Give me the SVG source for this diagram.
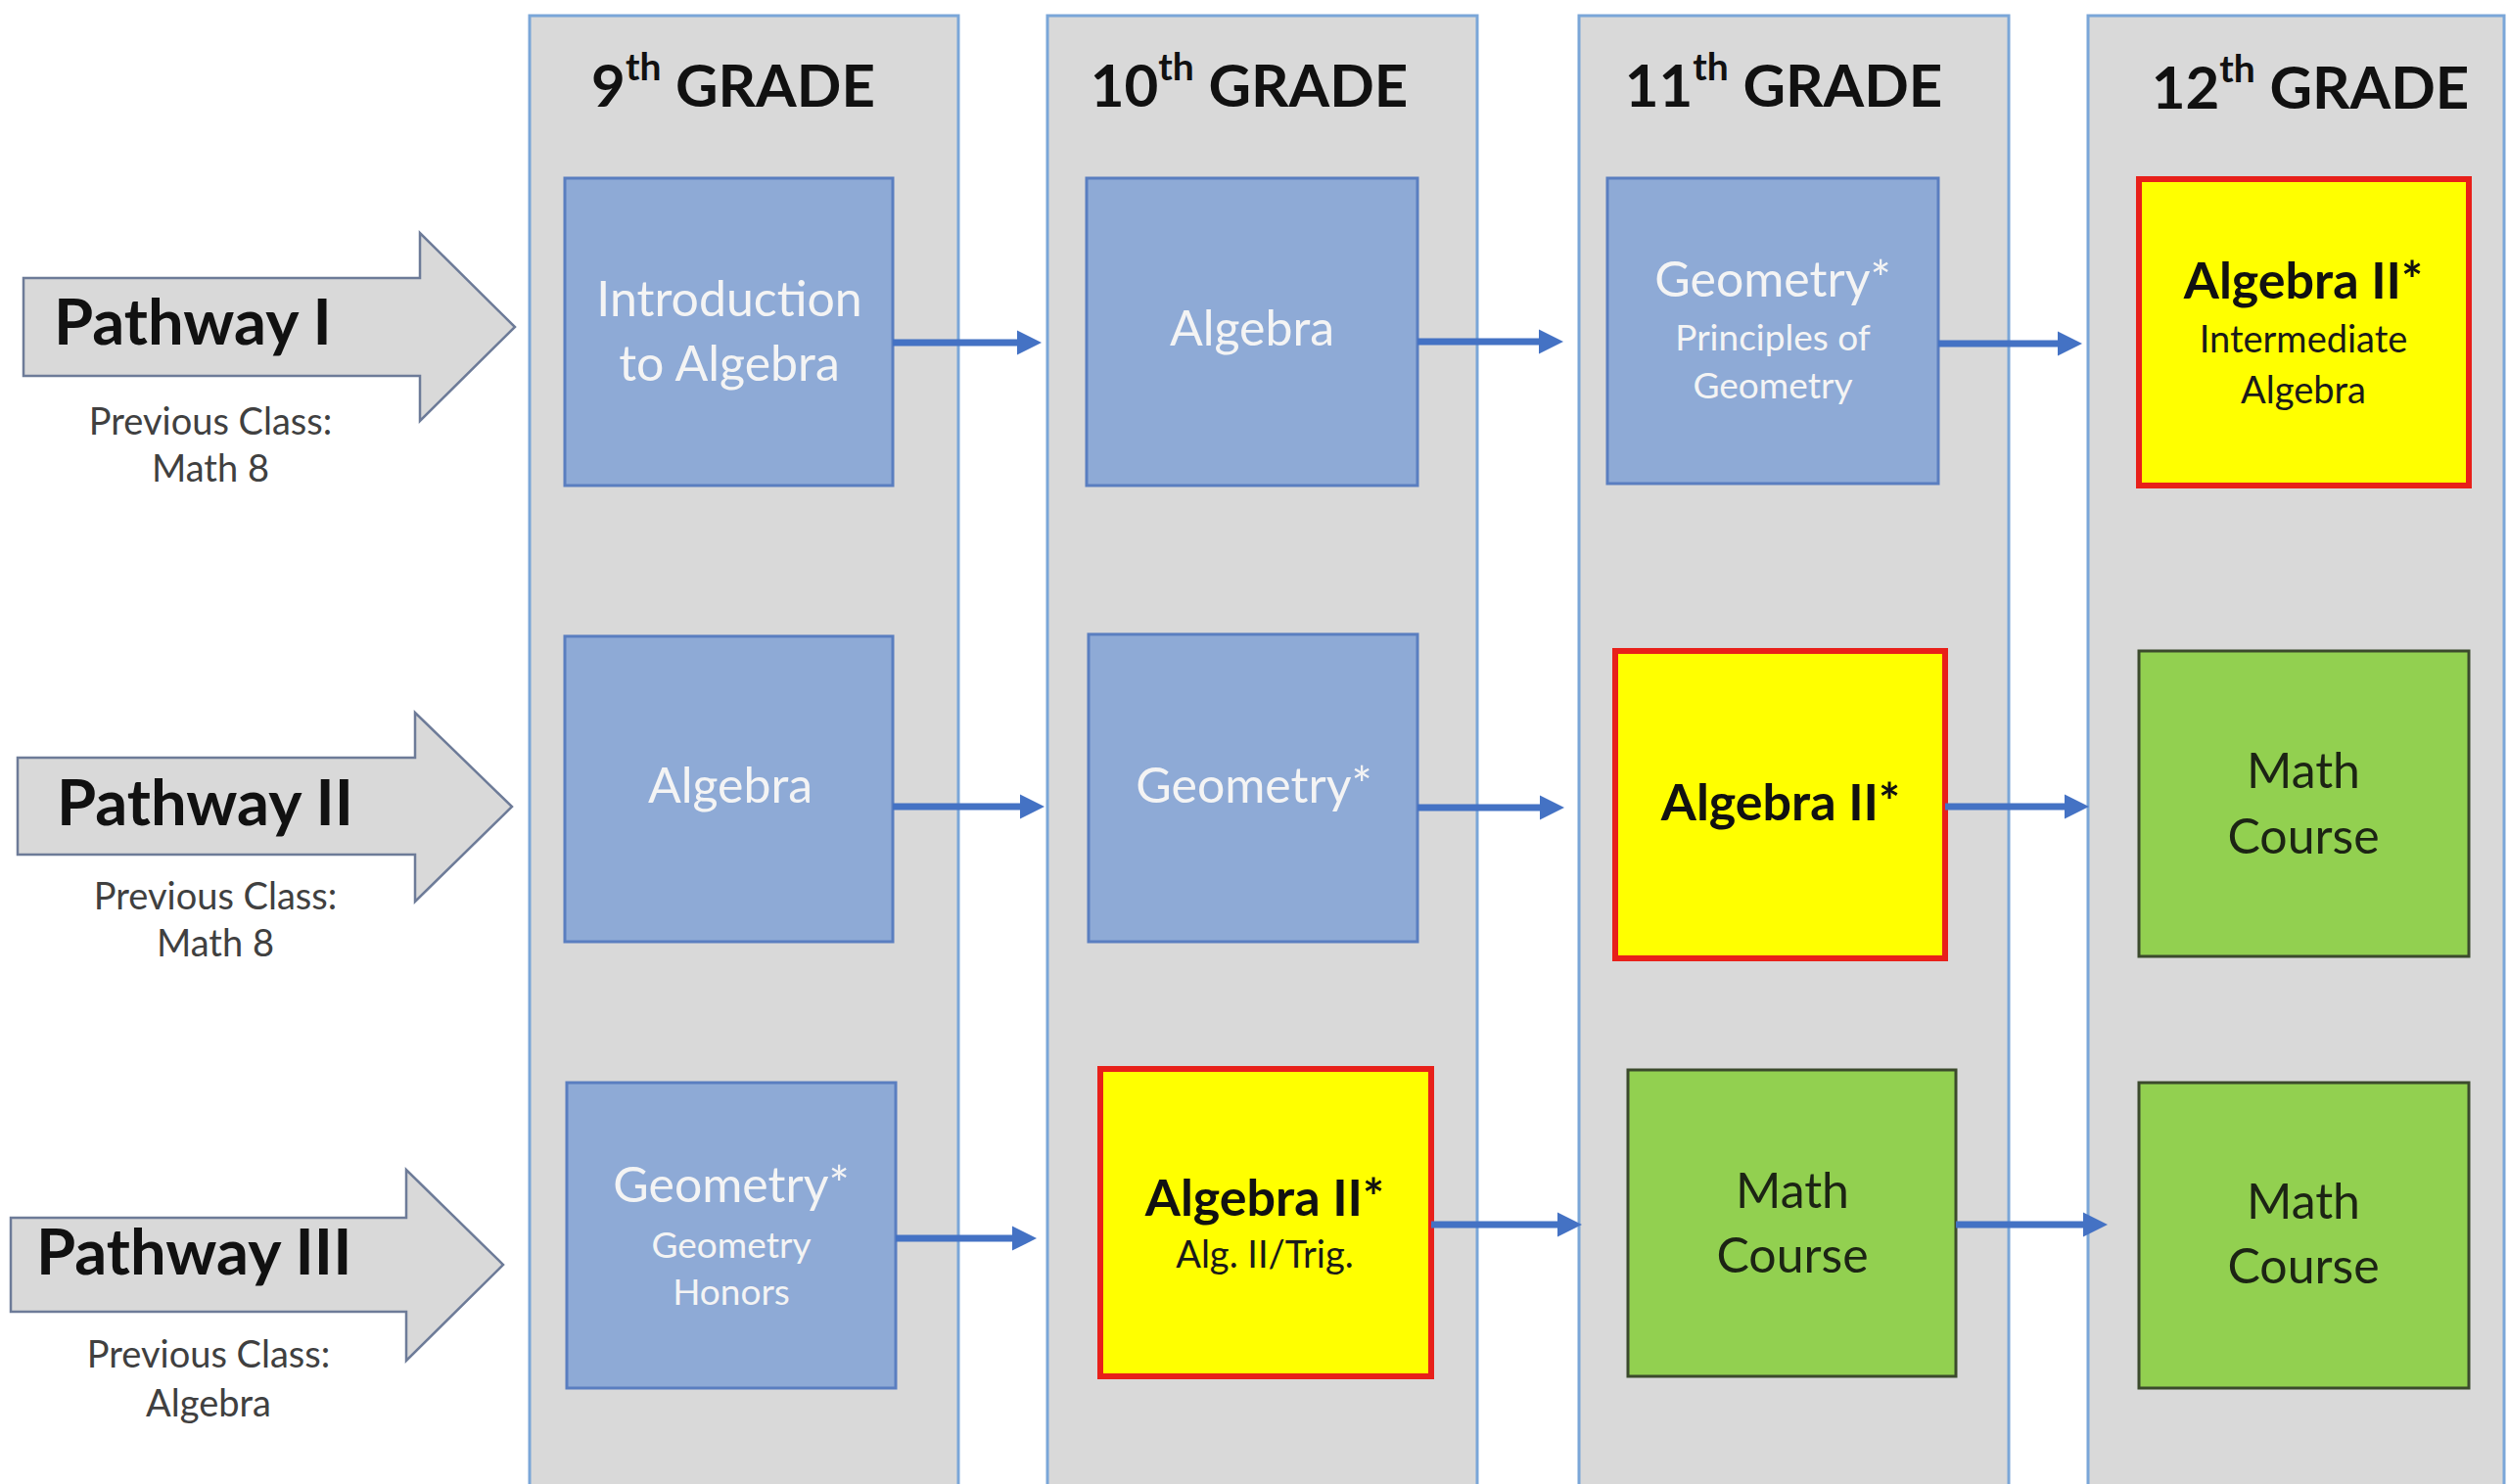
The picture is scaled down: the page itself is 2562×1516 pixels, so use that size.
<svg xmlns="http://www.w3.org/2000/svg" width="2562" height="1516" viewBox="0 0 2562 1516">
<style>
  .col { fill:#d9d9d9; stroke:#7aa6d8; stroke-width:3; }
  .blue { fill:#8eaad6; stroke:#5a7ec0; stroke-width:3; }
  .yellow { fill:#ffff00; stroke:#e8201a; stroke-width:6; }
  .green { fill:#92d050; stroke:#3b4a2c; stroke-width:3; }
  .path { fill:#d9d9d9; stroke:#6d7b98; stroke-width:2.5; }
  .hdr { font-family:Lato, "Liberation Sans", sans-serif; font-weight:bold; font-size:60px; fill:#111; text-anchor:middle; }
  .pw { font-family:Lato, "Liberation Sans", sans-serif; font-weight:bold; font-size:65px; fill:#111; }
  .prev { font-family:Lato, "Liberation Sans", sans-serif; font-size:38px; fill:#404040; text-anchor:middle; }
  .w { font-family:Lato, "Liberation Sans", sans-serif; font-size:50px; fill:#f4f4f4; text-anchor:middle; }
  .ws { font-family:Lato, "Liberation Sans", sans-serif; font-size:37px; fill:#f4f4f4; text-anchor:middle; }
  .b { font-family:Lato, "Liberation Sans", sans-serif; font-weight:bold; font-size:52px; fill:#111; text-anchor:middle; }
  .bs { font-family:Lato, "Liberation Sans", sans-serif; font-size:38px; fill:#1a1a1a; text-anchor:middle; }
  .d { font-family:Lato, "Liberation Sans", sans-serif; font-size:50px; fill:#1c2414; text-anchor:middle; }
  .conn { stroke:#4472c4; stroke-width:7; fill:none; marker-end:url(#ah); }
</style>
<defs>
  <marker id="ah" viewBox="0 0 10 10" refX="0" refY="5" markerWidth="3.6" markerHeight="4.2" orient="auto" markerUnits="strokeWidth">
    <path d="M0,0 L10,5 L0,10 z" fill="#4472c4"/>
  </marker>
</defs>
<rect width="2562" height="1516" fill="#ffffff"/>

<g id="columns">
  <g id="col-9"><rect class="col" x="541" y="16" width="438" height="1520"/>
    <text class="hdr" x="749" y="109">9<tspan font-size="39" dy="-27">th</tspan><tspan dy="27"> GRADE</tspan></text></g>
  <g id="col-10"><rect class="col" x="1070" y="16" width="439" height="1520"/>
    <text class="hdr" x="1276" y="109">10<tspan font-size="39" dy="-27">th</tspan><tspan dy="27"> GRADE</tspan></text></g>
  <g id="col-11"><rect class="col" x="1613" y="16" width="439" height="1520"/>
    <text class="hdr" x="1822" y="109">11<tspan font-size="39" dy="-27">th</tspan><tspan dy="27"> GRADE</tspan></text></g>
  <g id="col-12"><rect class="col" x="2133" y="16" width="425" height="1520"/>
    <text class="hdr" x="2360" y="111">12<tspan font-size="39" dy="-27">th</tspan><tspan dy="27"> GRADE</tspan></text></g>
</g>

<g id="pathway-1">
  <polygon class="path" points="24,284 429,284 429,238 526,334 429,430 429,384 24,384"/>
  <text class="pw" x="55" y="352">Pathway I</text>
  <text class="prev" x="215" y="444">Previous Class:</text>
  <text class="prev" x="215" y="492">Math 8</text>
</g>
<g id="pathway-2">
  <polygon class="path" points="18,774 424,774 424,728 523,824 424,921 424,873 18,873"/>
  <text class="pw" x="58" y="843">Pathway II</text>
  <text class="prev" x="220" y="929">Previous Class:</text>
  <text class="prev" x="220" y="977">Math 8</text>
</g>
<g id="pathway-3">
  <polygon class="path" points="11,1244 415,1244 415,1195 514,1292 415,1390 415,1340 11,1340"/>
  <text class="pw" x="37" y="1302">Pathway III</text>
  <text class="prev" x="213" y="1397">Previous Class:</text>
  <text class="prev" x="213" y="1447">Algebra</text>
</g>

<g id="n-intro-algebra"><rect class="blue" x="577" y="182" width="335" height="314"/>
  <text class="w" x="745" y="323">Introduction</text><text class="w" x="745" y="389">to Algebra</text></g>
<g id="n-algebra-10"><rect class="blue" x="1110" y="182" width="338" height="314"/>
  <text class="w" x="1279" y="353">Algebra</text></g>
<g id="n-geometry-11"><rect class="blue" x="1642" y="182" width="338" height="312"/>
  <text class="w" x="1811" y="303">Geometry*</text>
  <text class="ws" x="1811" y="358">Principles of</text>
  <text class="ws" x="1811" y="407">Geometry</text></g>
<g id="n-alg2-12"><rect class="yellow" x="2185" y="183" width="337" height="313"/>
  <text class="b" x="2353" y="305">Algebra II*</text>
  <text class="bs" x="2353" y="360">Intermediate</text>
  <text class="bs" x="2353" y="412">Algebra</text></g>

<g id="n-algebra-9"><rect class="blue" x="577" y="650" width="335" height="312"/>
  <text class="w" x="746" y="820">Algebra</text></g>
<g id="n-geometry-10"><rect class="blue" x="1112" y="648" width="336" height="314"/>
  <text class="w" x="1281" y="820">Geometry*</text></g>
<g id="n-alg2-11"><rect class="yellow" x="1650" y="665" width="337" height="314"/>
  <text class="b" x="1819" y="838">Algebra II*</text></g>
<g id="n-math-12a"><rect class="green" x="2185" y="665" width="337" height="312"/>
  <text class="d" x="2353" y="805">Math</text><text class="d" x="2353" y="872">Course</text></g>

<g id="n-geometry-9"><rect class="blue" x="579" y="1106" width="336" height="312"/>
  <text class="w" x="747" y="1228">Geometry*</text>
  <text class="ws" x="747" y="1285">Geometry</text>
  <text class="ws" x="747" y="1333">Honors</text></g>
<g id="n-alg2-10"><rect class="yellow" x="1124" y="1092" width="338" height="314"/>
  <text class="b" x="1292" y="1242">Algebra II*</text>
  <text class="bs" x="1292" y="1295">Alg. II/Trig.</text></g>
<g id="n-math-11"><rect class="green" x="1663" y="1093" width="335" height="313"/>
  <text class="d" x="1831" y="1234">Math</text><text class="d" x="1831" y="1300">Course</text></g>
<g id="n-math-12b"><rect class="green" x="2185" y="1106" width="337" height="312"/>
  <text class="d" x="2353" y="1245">Math</text><text class="d" x="2353" y="1311">Course</text></g>

<g id="connectors">
  <line class="conn" x1="912" y1="350" x2="1039" y2="350"/>
  <line class="conn" x1="1448" y1="349" x2="1572" y2="349"/>
  <line class="conn" x1="1980" y1="351" x2="2102" y2="351"/>
  <line class="conn" x1="912" y1="824" x2="1042" y2="824"/>
  <line class="conn" x1="1448" y1="825" x2="1573" y2="825"/>
  <line class="conn" x1="1987" y1="824" x2="2109" y2="824"/>
  <line class="conn" x1="915" y1="1265" x2="1034" y2="1265"/>
  <line class="conn" x1="1462" y1="1251" x2="1591" y2="1251"/>
  <line class="conn" x1="1998" y1="1251" x2="2128" y2="1251"/>
</g>
</svg>
